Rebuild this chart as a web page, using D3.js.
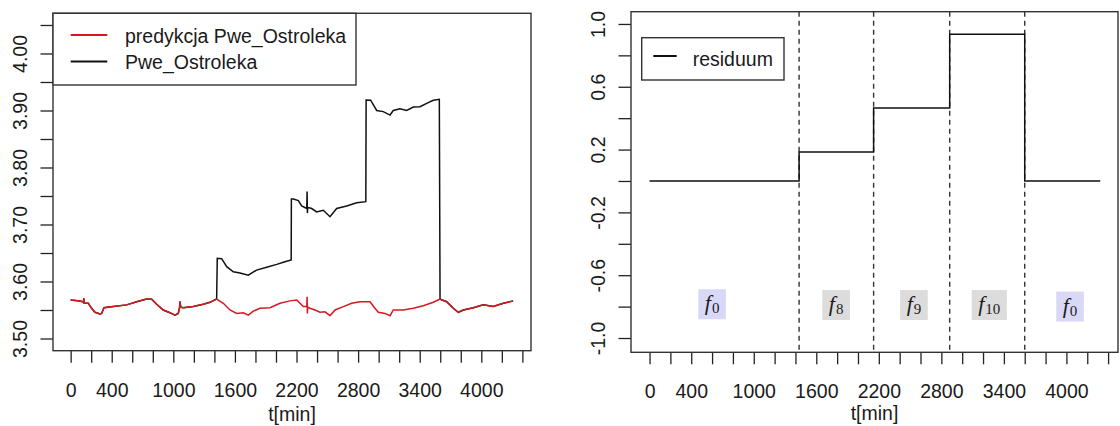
<!DOCTYPE html>
<html>
<head>
<meta charset="utf-8">
<script src="https://cdn.jsdelivr.net/npm/d3@7"></script>
<style>
  body { margin: 0; background: #fff; }
  svg { display: block; }
  text { font-family: "Liberation Sans", Arial, sans-serif; font-size: 19.5px; fill: #1a1a1a; }
  text.flab { font-family: "Liberation Serif", "Times New Roman", serif; }
</style>
</head>
<body>
<svg id="chart" width="1120" height="426"></svg>
<script>
// prediction of Pwe_Ostroleka (red), t[min] / value
const predT = [0, 91, 125, 128, 131, 172, 204, 237, 285, 302, 324, 415, 545, 643, 740, 789, 838, 902, 967,
  1016, 1048, 1060, 1065, 1072, 1097, 1194, 1292, 1357, 1422, 1487, 1552, 1617, 1682, 1730, 1779, 1844,
  1942, 2039, 2136, 2202, 2266, 2300, 2303, 2306, 2309, 2331, 2380, 2429, 2477, 2526, 2575, 2656, 2737,
  2818, 2916, 2964, 2997, 3062, 3111, 3143, 3240, 3338, 3435, 3532, 3598, 3663, 3727, 3776, 3825, 3922,
  4019, 4117, 4214, 4310];
const predV = [3.5675, 3.5658, 3.564, 3.5705, 3.5617, 3.5617, 3.553, 3.546, 3.543, 3.544, 3.554, 3.556, 3.559,
  3.5646, 3.5693, 3.569, 3.56, 3.55, 3.5453, 3.541, 3.544, 3.553, 3.565, 3.555, 3.554, 3.556, 3.56,
  3.5635, 3.5693, 3.5617, 3.55, 3.544, 3.545, 3.541, 3.548, 3.553, 3.554, 3.5617, 3.566, 3.5675, 3.556,
  3.556, 3.5733, 3.544, 3.555, 3.553, 3.55, 3.546, 3.5468, 3.54, 3.55, 3.556, 3.5617, 3.5646, 3.5646,
  3.553, 3.546, 3.544, 3.54, 3.55, 3.55, 3.553, 3.5575, 3.5635, 3.569, 3.5646, 3.553, 3.546, 3.55, 3.554,
  3.559, 3.556, 3.5617, 3.566];

// measured Pwe_Ostroleka while the faults f8, f9, f10 are active (black)
const faultT = [1428, 1471, 1520, 1584, 1649, 1730, 1811, 1909, 2007, 2088, 2148,
  2150, 2170, 2218, 2250, 2300, 2303, 2306, 2309, 2348, 2396, 2461, 2526, 2591, 2689, 2786, 2875,
  2878, 2922, 2981, 3045, 3111, 3143, 3208, 3273, 3338, 3403, 3468, 3532, 3591];
const faultV = [3.6407, 3.64, 3.626, 3.617, 3.615, 3.611, 3.62, 3.625, 3.63, 3.6347, 3.6377,
  3.7447, 3.7447, 3.742, 3.7325, 3.728, 3.758, 3.72, 3.73, 3.728, 3.722, 3.725, 3.7137, 3.728, 3.7325, 3.738, 3.74,
  3.9184, 3.918, 3.9, 3.898, 3.892, 3.9, 3.903, 3.9, 3.906, 3.9065, 3.9126, 3.9178, 3.9196];

// residual (step levels)
const residT = [0, 1435, 2150, 2880, 3600, 4325];
const residV = [0.0, 0.185, 0.465, 0.934, 0.0, 0.0];

// fault change points and region labels
const changeT = [1435, 2150, 2880, 3600];
const regionT = [600, 1790, 2537, 3260, 4035];
const regionV = [-0.785, -0.79, -0.79, -0.79, -0.80];
const regionSub = ["0", "8", "9", "10", "0"];
const regionFill = ["#d9d9f7", "#dcdcdc", "#dcdcdc", "#dcdcdc", "#d9d9f7"];

// axes
const xTicks = d3.range(0, 4401, 200);
const xLabels = [0, 400, 1000, 1600, 2200, 2800, 3400, 4000];
const yTicksL = [3.50, 3.55, 3.60, 3.65, 3.70, 3.75, 3.80, 3.85, 3.90, 3.95, 4.00, 4.05];
const yLabelsL = [3.50, 3.60, 3.70, 3.80, 3.90, 4.00];
const yTicksR = [-1.0, -0.8, -0.6, -0.4, -0.2, 0.0, 0.2, 0.4, 0.6, 0.8, 1.0];
const yLabelsR = [-1.0, -0.6, -0.2, 0.2, 0.6, 1.0];

const svg = d3.select("#chart");
const ink = "#222";

const xL = d3.scaleLinear().domain([-172, 4484]).range([53, 531]);
const yL = d3.scaleLinear().domain([3.4786, 4.0705]).range([350.7, 13.3]);
const xR = d3.scaleLinear().domain([-178, 4495]).range([631, 1118]);
const yR = d3.scaleLinear().domain([-1.091, 1.078]).range([352.3, 11.7]);

const near = (arr, d) => arr.some(v => Math.abs(v - d) < 1e-9);

function frame(x, y, yTicks, yLabels, digits, titleDy) {
  const [x0, x1] = x.range();
  const [yb, yt] = y.range();

  svg.append("g")
    .attr("transform", `translate(0,${yb})`)
    .call(d3.axisBottom(x).tickValues(xTicks).tickSize(12)
      .tickFormat(d => near(xLabels, d) ? d : ""))
    .call(a => {
      a.attr("font-size", null).attr("font-family", null);
      a.select(".domain").remove();
      a.selectAll("line").attr("stroke", ink).attr("stroke-width", 1.3);
      a.selectAll("text").attr("y", 46).attr("dy", null);
    });

  svg.append("g")
    .attr("transform", `translate(${x0},0)`)
    .call(d3.axisLeft(y).tickValues(yTicks).tickSize(12.5)
      .tickFormat(d => near(yLabels, d) ? d.toFixed(digits) : ""))
    .call(a => {
      a.attr("font-size", null).attr("font-family", null);
      a.select(".domain").remove();
      a.selectAll("line").attr("stroke", ink).attr("stroke-width", 1.3);
      a.selectAll("text")
        .attr("transform", "rotate(-90)")
        .attr("x", 0).attr("y", -26).attr("dy", null)
        .attr("text-anchor", "middle");
    });

  svg.append("rect")
    .attr("x", x0).attr("y", yt)
    .attr("width", x1 - x0).attr("height", yb - yt)
    .attr("fill", "none").attr("stroke", "#333").attr("stroke-width", 1.4);

  svg.append("text")
    .attr("x", (x0 + x1) / 2).attr("y", yb + titleDy)
    .attr("text-anchor", "middle")
    .text("t[min]");
}

// ---------- left panel ----------
frame(xL, yL, yTicksL, yLabelsL, 2, 70);

const pred = predT.map((t, i) => ({ t, v: predV[i] }));
const fault = faultT.map((t, i) => ({ t, v: faultV[i] }));
const measured = pred.filter(d => d.t < faultT[0])
  .concat(fault)
  .concat(pred.filter(d => d.t > faultT[faultT.length - 1]));

const lineL = d3.line().x(d => xL(d.t)).y(d => yL(d.v));

svg.append("path")
  .datum(measured)
  .attr("d", lineL)
  .attr("fill", "none").attr("stroke", "#111").attr("stroke-width", 1.5);

svg.append("path")
  .datum(pred)
  .attr("d", lineL)
  .attr("fill", "none").attr("stroke", "#d41a1f").attr("stroke-width", 1.5);

// legend left
const legL = svg.append("g");
legL.append("rect")
  .attr("x", 53).attr("y", 13.3).attr("width", 303).attr("height", 71.7)
  .attr("fill", "#fff").attr("stroke", "#333").attr("stroke-width", 1.4);
[["predykcja Pwe_Ostroleka", "#d41a1f", 35], ["Pwe_Ostroleka", "#111", 61.5]].forEach(([lab, col, yy]) => {
  legL.append("line").attr("x1", 70.7).attr("x2", 107.3).attr("y1", yy).attr("y2", yy)
    .attr("stroke", col).attr("stroke-width", 2);
  legL.append("text").attr("x", 125).attr("y", yy + 7.5).text(lab);
});

// ---------- right panel ----------
frame(xR, yR, yTicksR, yLabelsR, 1, 67.5);

svg.append("g")
  .selectAll("line")
  .data(changeT)
  .join("line")
  .attr("x1", d => xR(d)).attr("x2", d => xR(d))
  .attr("y1", yR.range()[1]).attr("y2", yR.range()[0])
  .attr("stroke", "#333").attr("stroke-width", 1.4)
  .attr("stroke-dasharray", "5,4");

const resid = residT.map((t, i) => ({ t, v: residV[i] }));
svg.append("path")
  .datum(resid)
  .attr("d", d3.line().x(d => xR(d.t)).y(d => yR(d.v)).curve(d3.curveStepAfter))
  .attr("fill", "none").attr("stroke", "#111").attr("stroke-width", 1.5);

// region labels f_k
regionT.forEach((t, i) => {
  const g = svg.append("g");
  const cx = xR(t), cy = yR(regionV[i]);
  const txt = g.append("text")
    .attr("class", "flab")
    .attr("x", cx).attr("y", cy + 6)
    .attr("text-anchor", "middle");
  txt.append("tspan").attr("font-style", "italic").attr("font-size", "22px").text("f");
  txt.append("tspan").attr("font-size", "15px").attr("dy", 3).attr("dx", 1).text(regionSub[i]);
  const bb = txt.node().getBBox();
  g.insert("rect", "text")
    .attr("x", bb.x - 6.5).attr("y", cy - 15)
    .attr("width", bb.width + 13).attr("height", 30)
    .attr("fill", regionFill[i]);
});

// legend right
const legR = svg.append("g");
legR.append("rect")
  .attr("x", 641.7).attr("y", 37.7).attr("width", 142.3).attr("height", 42.3)
  .attr("fill", "#fff").attr("stroke", "#333").attr("stroke-width", 1.4);
legR.append("line").attr("x1", 653.3).attr("x2", 676.7).attr("y1", 56).attr("y2", 56)
  .attr("stroke", "#111").attr("stroke-width", 2);
legR.append("text").attr("x", 692.7).attr("y", 66.3).text("residuum");
</script>
</body>
</html>
